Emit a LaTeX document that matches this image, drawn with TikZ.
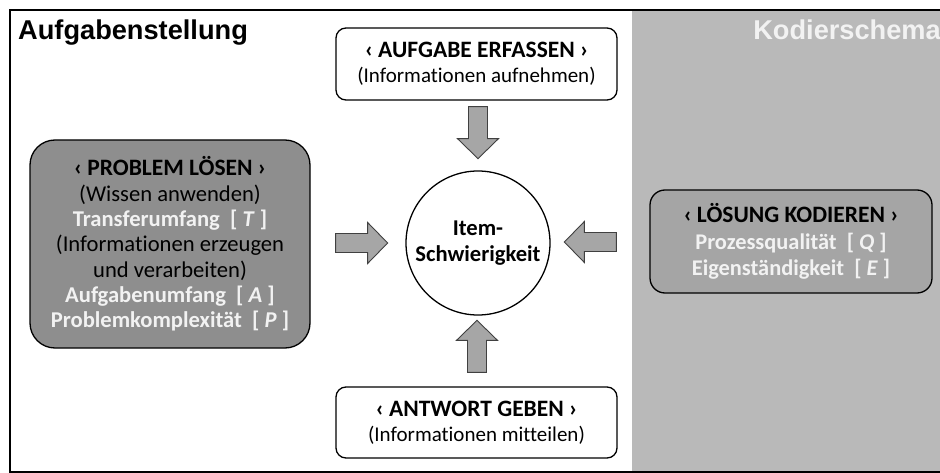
\documentclass[tikz,border=0pt]{standalone}
\usepackage{fontspec}
\setmainfont{Carlito}[Ligatures=NoCommon]
\newfontfamily\headfont{Liberation Sans}
\usetikzlibrary{positioning}
\usetikzlibrary{calc}
\definecolor{region}{HTML}{B9B9B9}
\definecolor{darkbox}{HTML}{8E8E8E}
\definecolor{midbox}{HTML}{A5A5A5}
\definecolor{arrowfill}{HTML}{A6A6A6}
\definecolor{lighttext}{HTML}{F2F2F2}
\tikzset{
  stepbox/.style={draw, line width=1.3pt, rounded corners=10pt, align=center,
    font=\fontsize{21}{25.5}\selectfont, inner sep=0pt},
  titletext/.style={inner sep=0pt, font=\headfont\bfseries\fontsize{27.2}{30}\selectfont},
  blockarrow/.pic={
    \draw [fill=arrowfill, draw=black!75, line width=0.9pt]
      (0,-9.5) -- (32,-9.5) -- (32,-20.5) -- (52,0) -- (32,20.5) -- (32,9.5) -- (0,9.5) -- cycle;
  }
}
\newcommand{\hd}[1]{{\fontsize{23.5}{25.5}\selectfont\textbf{#1}}}
\newcommand{\hl}[1]{\textcolor{lighttext}{\textbf{#1}}}

\begin{document}
\begin{tikzpicture}[x=1pt, y=-1pt]
\useasboundingbox (0,0) rectangle (940,473);
% Background
\fill [white] (0,0) rectangle (940,473);
\fill [region] (632,11) rectangle (940,473);
\draw [line width=1.3pt] (945,10) -- (10,10) -- (10,472) -- (945,472);
% Titles
\node [titletext, anchor=base west] (titleleft) at (18,40) {Aufgabenstellung};
\node [titletext, anchor=base east, text=lighttext] (titleright) at (941,40) {Kodierschema};
% Nodes
\node [stepbox, fill=white, minimum width=281pt, minimum height=72pt] (erfassen) at (476.5,64)
  {\hd{‹ AUFGABE ERFASSEN ›}\\(Informationen aufnehmen)};
\node [stepbox, fill=white, minimum width=281pt, minimum height=71pt] (geben) at (476.5,422.5)
  {\hd{‹ ANTWORT GEBEN ›}\\(Informationen mitteilen)};
\node [stepbox, fill=darkbox, rounded corners=25pt, minimum width=280pt, minimum height=208pt,
  font=\fontsize{22.6}{25.3}\selectfont] (loesen) at (170,244)
  {\hd{‹ PROBLEM LÖSEN ›}\\(Wissen anwenden)\\\hl{Transferumfang~~[~\textit{T}~]}\\(Informationen erzeugen\\und verarbeiten)\\\hl{Aufgabenumfang~~[~\textit{A}~]}\\\hl{Problemkomplexität~~[~\textit{P}~]}};
\node [stepbox, fill=midbox, rounded corners=15pt, minimum width=282pt, minimum height=103pt,
  font=\fontsize{22.4}{26.5}\selectfont] (kodieren) at (791,241.5)
  {\hd{‹ LÖSUNG KODIEREN ›}\\\hl{Prozessqualität~~[~\textit{Q}~]}\\\hl{Eigenständigkeit~~[~\textit{E}~]}};
\node [circle, draw, line width=1.3pt, fill=white, minimum size=144pt, inner sep=0pt, align=center,
  font=\bfseries\fontsize{22.6}{25.5}\selectfont] (item) at (478,243) {Item-\\Schwierigkeit};
% Arrows
\pic [rotate=-90] at ($(erfassen.south)+(1.5,6)$) {blockarrow};
\pic [rotate=90] at ($(geben.north)+(0.5,-14)$) {blockarrow};
\pic at ($(loesen.east)+(25,-1)$) {blockarrow};
\pic [rotate=180] at ($(kodieren.west)+(-33,0.5)$) {blockarrow};
\end{tikzpicture}
\end{document}
